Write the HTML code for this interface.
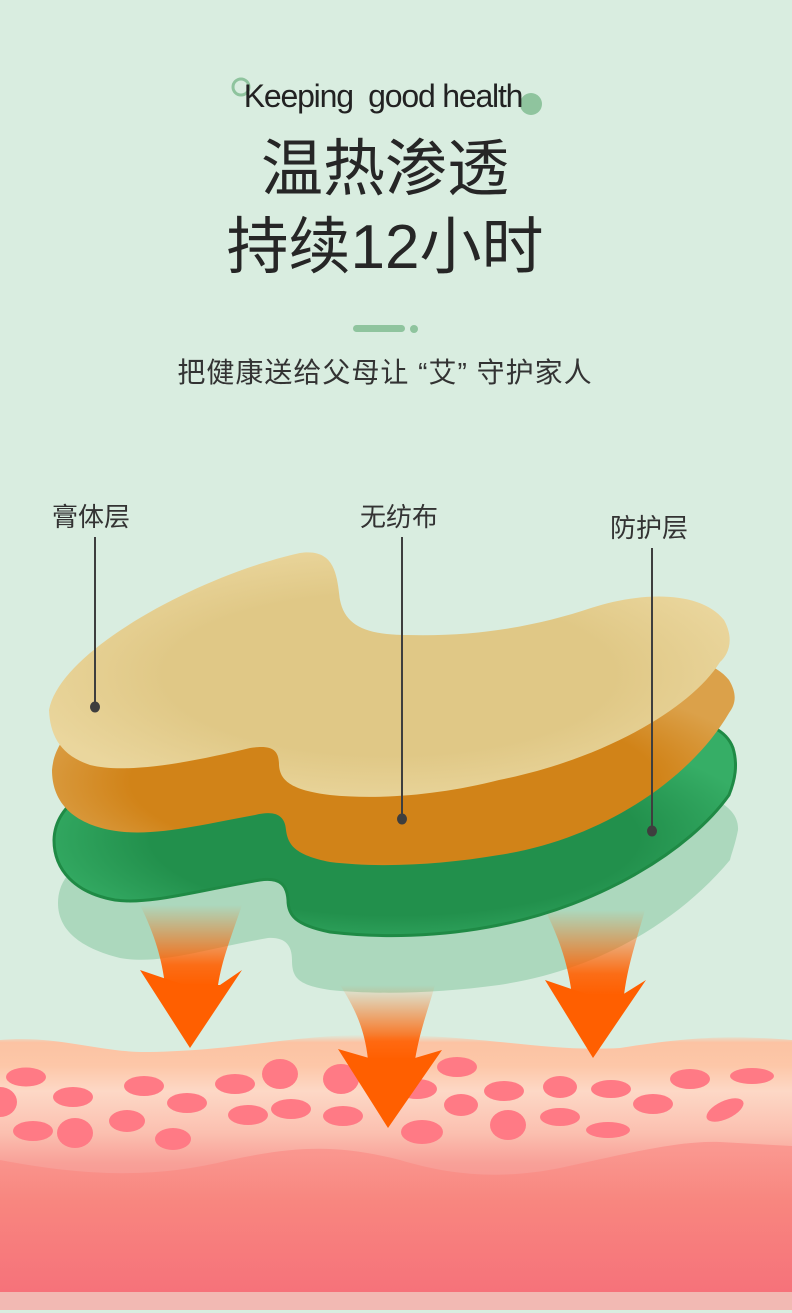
<!DOCTYPE html>
<html><head><meta charset="utf-8"><style>
html,body{margin:0;padding:0;}
body{width:792px;height:1313px;overflow:hidden;background:#d9ede0;position:relative;font-family:"Liberation Sans","Noto Sans CJK SC",sans-serif;}
.t{position:absolute;left:0;width:792px;text-align:center;color:#262626;white-space:nowrap;}
</style></head><body>
<svg width="792" height="1313" style="position:absolute;left:0;top:0">
<defs>
<linearGradient id="skin" x1="0" y1="0" x2="0" y2="1">
<stop offset="0" stop-color="#d9ede0"/>
<stop offset="0.03" stop-color="#fcc3a3"/>
<stop offset="0.12" stop-color="#fdc7a8"/>
<stop offset="0.22" stop-color="#fdd8c6"/>
<stop offset="0.38" stop-color="#fbc0b0"/>
<stop offset="0.5" stop-color="#f8a098"/>
<stop offset="0.95" stop-color="#f6737a"/>
<stop offset="1" stop-color="#f6737a"/>
</linearGradient>
<linearGradient id="deep" x1="0" y1="0" x2="0" y2="1">
<stop offset="0" stop-color="#fa9a92"/>
<stop offset="0.4" stop-color="#f8867f"/>
<stop offset="1" stop-color="#f6727a"/>
</linearGradient>
<linearGradient id="tail" x1="0" y1="0" x2="0" y2="1">
<stop offset="0" stop-color="#ff5f00" stop-opacity="0"/>
<stop offset="0.75" stop-color="#ff5f00" stop-opacity="0.9"/>
<stop offset="1" stop-color="#ff5f00"/>
</linearGradient>
<radialGradient id="tan" cx="0.5" cy="0.5" r="0.55">
<stop offset="0.6" stop-color="#e0c886"/><stop offset="1" stop-color="#ead69d"/>
</radialGradient>
<radialGradient id="org" cx="0.5" cy="0.6" r="0.55">
<stop offset="0.7" stop-color="#d18318"/><stop offset="1" stop-color="#dba14a"/>
</radialGradient>
<radialGradient id="grn" cx="0.5" cy="0.55" r="0.55">
<stop offset="0.65" stop-color="#22904c"/><stop offset="1" stop-color="#36ae66"/>
</radialGradient>
</defs>
<path d="M0,1040 C60,1035 100,1053 150,1052 C250,1050 300,1032 400,1035 C500,1038 550,1052 620,1048 C700,1035 740,1036 792,1040 L792,1292 L0,1292 Z" fill="url(#skin)"/>
<path d="M0,1160 C80,1175 150,1180 230,1160 C300,1145 340,1145 400,1160 C450,1175 500,1180 560,1168 C620,1155 680,1140 720,1142 L792,1146 L792,1292 L0,1292 Z" fill="url(#deep)"/>
<rect x="0" y="1292" width="792" height="18" fill="#f2b9b3"/>
<g fill="#ff7a85">
<ellipse cx="26" cy="1077" rx="20" ry="9.5"/><ellipse cx="73" cy="1097" rx="20" ry="10"/>
<ellipse cx="0" cy="1102" rx="17" ry="15"/><ellipse cx="144" cy="1086" rx="20" ry="10"/>
<ellipse cx="187" cy="1103" rx="20" ry="10"/><ellipse cx="235" cy="1084" rx="20" ry="10"/>
<ellipse cx="280" cy="1074" rx="18" ry="15"/><ellipse cx="341" cy="1079" rx="18" ry="15"/>
<ellipse cx="417" cy="1089" rx="20" ry="10"/><ellipse cx="457" cy="1067" rx="20" ry="10"/>
<ellipse cx="504" cy="1091" rx="20" ry="10"/><ellipse cx="560" cy="1087" rx="17" ry="11"/>
<ellipse cx="611" cy="1089" rx="20" ry="9"/><ellipse cx="690" cy="1079" rx="20" ry="10"/>
<ellipse cx="752" cy="1076" rx="22" ry="8"/><ellipse cx="33" cy="1131" rx="20" ry="10"/>
<ellipse cx="75" cy="1133" rx="18" ry="15"/><ellipse cx="127" cy="1121" rx="18" ry="11"/>
<ellipse cx="173" cy="1139" rx="18" ry="11"/><ellipse cx="248" cy="1115" rx="20" ry="10"/>
<ellipse cx="291" cy="1109" rx="20" ry="10"/><ellipse cx="343" cy="1116" rx="20" ry="10"/>
<ellipse cx="422" cy="1132" rx="21" ry="12"/><ellipse cx="461" cy="1105" rx="17" ry="11"/>
<ellipse cx="508" cy="1125" rx="18" ry="15"/><ellipse cx="560" cy="1117" rx="20" ry="9"/>
<ellipse cx="608" cy="1130" rx="22" ry="8"/><ellipse cx="653" cy="1104" rx="20" ry="10"/>
<ellipse cx="725" cy="1110" rx="20" ry="9" transform="rotate(-25 725 1110)"/>
</g>
<path d="M58,903 C58,870 90,850 150,840 L640,790 C690,785 740,800 738,830 C735,845 732,852 730,860 C680,920 600,970 499,985 C440,993 380,995 330,990 C298,985 292,978 292,960 C292,945 285,937 268,938 C200,950 160,965 120,958 C80,948 58,930 58,903 Z" fill="#acd8bd"/>
<path d="M140,905 L242,905 C230,940 222,960 218,985 L165,985 C162,960 155,935 140,905 Z" fill="url(#tail)"/>
<path d="M545,910 L645,910 C635,945 628,965 624,995 L572,995 C568,965 560,940 545,910 Z" fill="url(#tail)"/>
<path d="M340,985 L435,985 C428,1010 420,1030 415,1060 L368,1060 C365,1030 355,1008 340,985 Z" fill="url(#tail)"/>
<g fill="#ff5f00">
<polygon points="140,970 184,985 220,985 242,970 190,1048"/>
<polygon points="545,980 589,995 622,995 646,980 593,1058"/>
<polygon points="338,1049 369,1058 415,1058 442,1050 388,1128"/>
</g>
<path d="M54,840 C55,800 100,780 150,770 L600,728 C650,713 720,712 733,748 C738,765 735,780 729,795 C690,850 600,905 499,925 C440,937 380,938 330,932 C295,925 288,915 288,900 C287,885 280,877 260,880 C200,890 150,905 115,900 C75,893 54,870 54,840 Z" fill="url(#grn)" stroke="#1f8a45" stroke-width="3"/>
<path d="M52,770 C55,730 100,700 150,690 L591,668 C640,652 705,650 729,680 C738,695 735,705 729,713 C690,780 600,840 499,855 C440,865 380,868 330,862 C295,855 288,845 286,830 C285,815 275,810 255,815 C200,825 150,838 110,830 C70,822 52,800 52,770 Z" fill="url(#org)"/>
<path d="M49,710 C60,650 200,575 300,553 C335,548 337,575 340,600 C345,625 365,635 407,635 C480,637 540,625 591,608 C640,592 700,590 724,620 C735,640 728,655 720,662 C690,710 600,760 499,780 C440,795 380,800 330,795 C290,790 280,780 279,765 C279,748 270,745 250,748 C200,760 130,775 90,765 C60,755 50,735 49,710 Z" fill="url(#tan)"/>
<g stroke="#3e3e3e" stroke-width="2"><line x1="95" y1="537" x2="95" y2="706"/><line x1="402" y1="537" x2="402" y2="818"/><line x1="652" y1="548" x2="652" y2="830"/></g>
<g fill="#3e3e3e"><ellipse cx="95" cy="707" rx="5" ry="5.5"/><ellipse cx="402" cy="819" rx="5" ry="5.5"/><ellipse cx="652" cy="831" rx="5" ry="5.5"/></g>
<circle cx="241" cy="87" r="8" fill="none" stroke="#8fc49e" stroke-width="3"/>
<circle cx="531" cy="104" r="11" fill="#8fc49e"/>
<rect x="353" y="325" width="52" height="7" rx="3.5" fill="#8fc49e"/>
<circle cx="414" cy="329" r="4" fill="#8fc49e"/>
</svg>
<div class="t" style="top:78px;font-size:32px;left:-13px;letter-spacing:-1.2px;color:#222">Keeping&nbsp; good health</div>
<div class="t" style="top:134px;font-size:62px;line-height:72px;left:-11px">温热渗透</div>
<div class="t" style="top:212px;font-size:62px;line-height:72px;left:-11px">持续12小时</div>
<div class="t" style="top:355px;font-size:28px;line-height:36px;left:-11px;color:#333;letter-spacing:1px">把健康送给父母让&nbsp;“艾”&nbsp;守护家人</div>
<div class="t" style="top:500px;font-size:26px;line-height:34px;left:52px;width:auto;color:#333">膏体层</div>
<div class="t" style="top:500px;font-size:26px;line-height:34px;left:360px;width:auto;color:#333">无纺布</div>
<div class="t" style="top:511px;font-size:26px;line-height:34px;left:610px;width:auto;color:#333">防护层</div>
</body></html>
